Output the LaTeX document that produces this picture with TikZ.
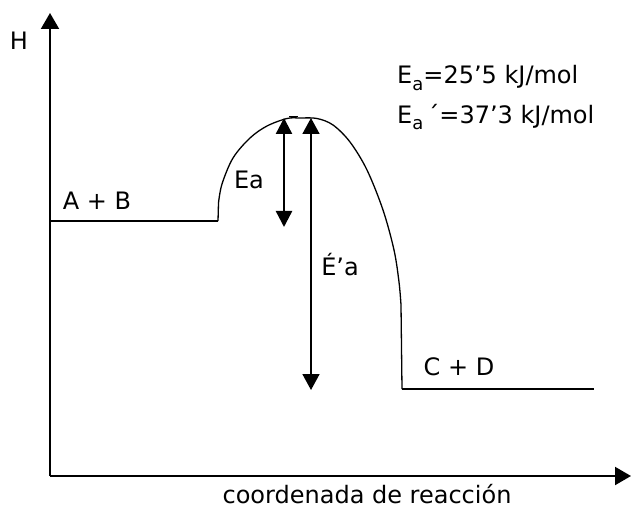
\documentclass[tikz,border=0pt]{standalone}
\usepackage{fontspec}
\setmainfont{DejaVu Sans}
\usetikzlibrary{arrows.meta}
\tikzset{
  lbl/.style={inner sep=0pt, font=\fontsize{24}{27}\selectfont, anchor=center},
  axis/.style={line width=2pt, -{Triangle[length=16pt,width=18pt]}},
  thin/.style={line width=1.3pt},
  eaarrow/.style={line width=2.4pt, {Triangle[length=16pt,width=16pt]}-{Triangle[length=16pt,width=16pt]}},
  epaarrow/.style={line width=1.7pt, {Triangle[length=16pt,width=17pt]}-{Triangle[length=16pt,width=17pt]}},
}
\newcommand{\subA}{\raisebox{-0.28em}{\fontsize{18}{18}\selectfont a}}
\begin{document}
\begin{tikzpicture}[x=1pt,y=-1pt]
\useasboundingbox (0,0) rectangle (631,510);
% axes
\coordinate (O) at (50,476);
\coordinate (ytip) at (50,13);
\coordinate (xtip) at (631,476);
\draw[axis] (O) -- (ytip);
\draw[axis] (O) -- (xtip);
\node[lbl] (H) at (19,41) {H};
\node[lbl] (xlab) at (367,494) {coordenada de reacción};
% levels
\coordinate (ab1) at (50,221);
\coordinate (ab2) at (218,221);
\draw[thin] (ab1) -- (ab2);
\node[lbl] (AB) at (97,201) {A + B};
\coordinate (cd1) at (402,389);
\coordinate (cd2) at (594,389);
\draw[thin] (cd1) -- (cd2);
\node[lbl] (CD) at (459,367) {C + D};
% curve
\draw[thin] (ab2) -- (218.5,203)
  plot[smooth,tension=0.55] coordinates {(218.5,203) (222,184) (233,158) (250,138) (267,126) (287,118.5) (300,118) (317,118.5) (333,125) (350,142) (367,170) (383,210) (394,250) (399,282) (401,305)}
  -- (cd1);
\draw[line width=1pt] (289,116.5) -- (298,116.5);
% arrows
\coordinate (eat) at (284,118);
\coordinate (eab) at (284,227);
\draw[eaarrow] (eat) -- (eab);
\node[lbl] (Ea) at (249,180) {Ea};
\coordinate (ept) at (311,118);
\coordinate (epb) at (311,390);
\draw[epaarrow] (ept) -- (epb);
\node[lbl] (Epa) at (340,265) {É’a};
% values
\node[lbl, anchor=west] (v1) at (397,78) {E\subA=25’5 kJ/mol};
\node[lbl, anchor=west] (v2) at (397,117) {E\subA\,´=37’3 kJ/mol};
\end{tikzpicture}
\end{document}
